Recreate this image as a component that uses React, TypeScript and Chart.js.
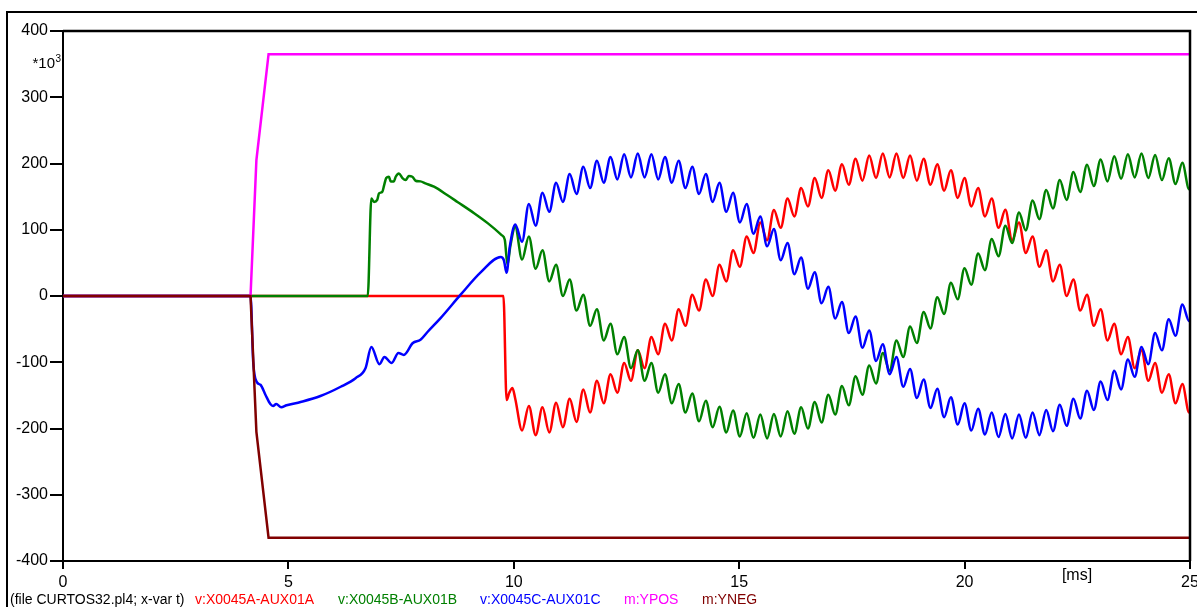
import { useEffect, useRef } from "react";
import { Chart, registerables } from "chart.js";

Chart.register(...registerables);

// ---------- data (values in 10^3 units, time in ms) ----------
const YPOS_T = [0, 4.16, 4.29, 4.56, 25];
const YPOS_V = [0, 0, 205, 365, 365];
const YNEG_T = [0, 4.16, 4.29, 4.56, 25];
const YNEG_V = [0, 0, -205, -365, -365];

const RED_PRE_T = [0, 9.77, 9.84, 9.9, 9.97];
const RED_PRE_V = [0, 0, -157, -146, -139];

const GREEN_PRE_T = [0, 6.76, 6.84, 6.9, 6.97, 7.01, 7.08, 7.13, 7.17, 7.23, 7.27, 7.34, 7.38, 7.45, 7.53, 7.6, 7.67, 7.75, 7.82, 7.93, 8.04, 8.23, 8.53, 8.75, 9.12, 9.42, 9.73, 9.8, 9.86, 9.92];
const GREEN_PRE_V = [0, 0, 147, 142, 145, 155, 157, 169, 178, 180, 173, 173, 180, 185, 178, 175, 181, 180, 174, 173, 170, 165, 152, 142, 125, 110, 92, 85, 47, 74];

const BLUE_PRE_T = [0, 4.16, 4.22, 4.3, 4.38, 4.49, 4.6, 4.66, 4.73, 4.84, 4.96, 5.27, 5.71, 6.16, 6.49, 6.71, 6.84, 7.02, 7.13, 7.29, 7.44, 7.56, 7.76, 7.93, 8.09, 8.38, 8.82, 9.27, 9.71, 9.78, 9.84, 9.91];
const BLUE_PRE_V = [0, 0, -100, -130, -134, -149, -163, -166, -163, -168, -165, -160, -151, -137, -124, -109, -77, -103, -92, -101, -86, -89, -71, -66, -54, -33, 2, 36, 59, 54, 35, 74];

const RIPPLE_T = [
  10.032, 10.183, 10.334, 10.485, 10.636, 10.787, 10.938, 11.089, 11.24, 11.391,
  11.542, 11.693, 11.844, 11.995, 12.146, 12.297, 12.448, 12.599, 12.75, 12.901,
  13.052, 13.203, 13.354, 13.505, 13.656, 13.807, 13.958, 14.109, 14.26, 14.411,
  14.562, 14.713, 14.864, 15.015, 15.166, 15.317, 15.468, 15.619, 15.77, 15.921,
  16.072, 16.223, 16.374, 16.525, 16.676, 16.827, 16.978, 17.129, 17.28, 17.431,
  17.582, 17.733, 17.884, 18.035, 18.186, 18.337, 18.488, 18.639, 18.79, 18.941,
  19.092, 19.243, 19.394, 19.545, 19.696, 19.847, 19.998, 20.149, 20.3, 20.451,
  20.602, 20.753, 20.904, 21.055, 21.206, 21.357, 21.508, 21.659, 21.81, 21.961,
  22.112, 22.263, 22.414, 22.565, 22.716, 22.867, 23.018, 23.169, 23.32, 23.471,
  23.622, 23.773, 23.924, 24.075, 24.226, 24.377, 24.528, 24.679, 24.83, 24.981,
  25.132,
];

const BLUE_RIPPLE = [
  108, 82, 139, 106, 156, 127, 171, 142, 184, 154,
  195, 163, 204, 171, 210, 176, 214, 179, 215, 179,
  214, 176, 210, 171, 204, 163, 195, 154, 184, 142,
  171, 127, 156, 111, 139, 94, 120, 75, 101, 54,
  80, 33, 58, 11, 36, -11, 14, -34, -9, -56,
  -31, -78, -52, -98, -73, -118, -92, -137, -110, -154,
  -126, -169, -140, -183, -153, -194, -162, -203, -170, -209,
  -176, -213, -178, -215, -179, -214, -176, -210, -172, -204,
  -164, -196, -155, -185, -143, -172, -129, -157, -113, -141,
  -96, -122, -77, -103, -56, -82, -35, -60, -13, -38,
  9,
];

const RED_RIPPLE = [
  -155, -203, -166, -210, -168, -206, -161, -198, -155, -190,
  -141, -176, -128, -162, -118, -146, -101, -128, -82, -109,
  -62, -88, -42, -67, -20, -45, 2, -22, 25, 0,
  47, 22, 69, 44, 90, 65, 111, 84, 130, 103,
  147, 120, 163, 135, 178, 148, 190, 159, 199, 168,
  207, 174, 212, 178, 215, 179, 215, 178, 212, 174,
  207, 168, 199, 159, 190, 148, 178, 135, 163, 120,
  147, 103, 130, 84, 111, 65, 90, 44, 69, 22,
  47, 0, 25, -22, 2, -45, -20, -67, -42, -88,
  -62, -109, -82, -128, -101, -146, -118, -162, -133, -176,
  -147,
];

const GREEN_RIPPLE = [
  104, 55, 90, 41, 69, 22, 47, 0, 25, -22,
  2, -45, -20, -67, -42, -88, -62, -109, -82, -128,
  -101, -146, -118, -162, -133, -176, -147, -189, -158, -198,
  -167, -206, -173, -212, -177, -214, -179, -215, -178, -212,
  -174, -208, -168, -200, -160, -191, -149, -179, -136, -165,
  -121, -149, -105, -132, -86, -113, -67, -92, -46, -71,
  -24, -49, -2, -27, 20, -5, 42, 17, 64, 39,
  86, 60, 106, 80, 126, 99, 144, 116, 160, 132,
  175, 145, 187, 157, 198, 166, 206, 173, 211, 177,
  214, 179, 215, 178, 213, 175, 208, 169, 201, 161,
  192,
];

const SERIES_NAMES = ["v:X0045A-AUX01A", "v:X0045B-AUX01B", "v:X0045C-AUX01C", "m:YPOS", "m:YNEG"];
const SERIES_COLORS = ["#ff0000", "#008000", "#0000ff", "#ff00ff", "#800000"];
const FILE_LABEL = "(file CURTOS32.pl4; x-var t)";
const X_UNIT = "[ms]";
const Y_MULT = "*10";
const Y_MULT_EXP = "3";

// ---------- layout ----------
const W = 1197;
const H = 607;
const FONT = '"Liberation Sans", Arial, Helvetica, sans-serif';
const LEGEND_X = [10, 195, 338, 480, 624, 702];

function pts(t: number[], v: number[]) {
  return t.map((x, i) => ({ x, y: v[i] }));
}

const decorPlugin = {
  id: "decor",
  afterDraw(chart: any) {
    const ctx = chart.ctx as CanvasRenderingContext2D;
    const ca = chart.chartArea;
    ctx.save();
    ctx.strokeStyle = "#000";
    ctx.lineWidth = 2;
    // outer frame (left + top)
    ctx.beginPath();
    ctx.moveTo(7, H);
    ctx.lineTo(7, 12);
    ctx.lineTo(W, 12);
    ctx.stroke();
    // plot frame top + right
    ctx.lineWidth = 2.5;
    ctx.beginPath();
    ctx.moveTo(ca.left, ca.top);
    ctx.lineTo(ca.right, ca.top);
    ctx.lineTo(ca.right, ca.bottom);
    ctx.stroke();

    ctx.fillStyle = "#000";
    ctx.textBaseline = "alphabetic";
    // *10^3
    ctx.font = `15px ${FONT}`;
    ctx.textAlign = "right";
    ctx.fillText(Y_MULT, 55, 68);
    ctx.font = `10px ${FONT}`;
    ctx.textAlign = "left";
    ctx.fillText(Y_MULT_EXP, 55.5, 62);
    // [ms]
    ctx.font = `16px ${FONT}`;
    ctx.textAlign = "center";
    ctx.fillText(X_UNIT, 1077, 580);
    // bottom legend line
    ctx.font = `14px ${FONT}`;
    ctx.textAlign = "left";
    ctx.fillStyle = "#000";
    ctx.fillText(FILE_LABEL, LEGEND_X[0], 604);
    SERIES_NAMES.forEach((name, i) => {
      ctx.fillStyle = SERIES_COLORS[i];
      ctx.fillText(name, LEGEND_X[i + 1], 604);
    });
    ctx.restore();
  },
};

export default function App() {
  const ref = useRef<HTMLCanvasElement | null>(null);

  useEffect(() => {
    document.body.style.margin = "0";
    const canvas = ref.current;
    if (!canvas) return;
    const ds = (label: string, color: string, data: any[], order: number, smooth: boolean) => ({
      label,
      data,
      borderColor: color,
      backgroundColor: color,
      borderWidth: 2.5,
      pointRadius: 0,
      tension: smooth ? 0.4 : 0,
      cubicInterpolationMode: smooth ? ("monotone" as const) : ("default" as const),
      fill: false,
      order,
    });
    const chart = new Chart(canvas, {
      type: "line",
      data: {
        datasets: [
          ds(SERIES_NAMES[0], SERIES_COLORS[0], pts([...RED_PRE_T, ...RIPPLE_T], [...RED_PRE_V, ...RED_RIPPLE]), 4, true),
          ds(SERIES_NAMES[1], SERIES_COLORS[1], pts([...GREEN_PRE_T, ...RIPPLE_T], [...GREEN_PRE_V, ...GREEN_RIPPLE]), 3, true),
          ds(SERIES_NAMES[2], SERIES_COLORS[2], pts([...BLUE_PRE_T, ...RIPPLE_T], [...BLUE_PRE_V, ...BLUE_RIPPLE]), 2, true),
          ds(SERIES_NAMES[3], SERIES_COLORS[3], pts(YPOS_T, YPOS_V), 1, false),
          ds(SERIES_NAMES[4], SERIES_COLORS[4], pts(YNEG_T, YNEG_V), 0, false),
        ],
      },
      options: {
        responsive: false,
        animation: false,
        devicePixelRatio: 1,
        layout: { padding: { left: 0, top: 31, right: 7, bottom: 0 } },
        plugins: { legend: { display: false }, tooltip: { enabled: false } },
        scales: {
          x: {
            type: "linear",
            min: 0,
            max: 25,
            afterFit: (s: any) => {
              s.height = 46;
              s.paddingLeft = 0;
              s.paddingRight = 0;
            },
            ticks: {
              stepSize: 5,
              color: "#000",
              font: { family: FONT, size: 16 },
              padding: 4,
              maxRotation: 0,
            },
            grid: {
              display: true,
              drawOnChartArea: false,
              drawTicks: true,
              tickLength: 8,
              color: "#000",
              lineWidth: 2,
            },
            border: { display: true, color: "#000", width: 2 },
          },
          y: {
            type: "linear",
            min: -400,
            max: 400,
            afterFit: (s: any) => {
              s.width = 63;
              s.paddingTop = 0;
              s.paddingBottom = 0;
            },
            ticks: {
              stepSize: 100,
              color: "#000",
              font: { family: FONT, size: 16 },
              padding: 2,
            },
            grid: {
              display: true,
              drawOnChartArea: false,
              drawTicks: true,
              tickLength: 13,
              color: "#000",
              lineWidth: 2,
            },
            border: { display: true, color: "#000", width: 2 },
          },
        },
      },
      plugins: [decorPlugin],
    });
    return () => chart.destroy();
  }, []);

  return (
    <div style={{ position: "relative", width: W, height: H, background: "#fff" }}>
      <canvas ref={ref} width={W} height={H} style={{ display: "block", width: W, height: H }} />
    </div>
  );
}
